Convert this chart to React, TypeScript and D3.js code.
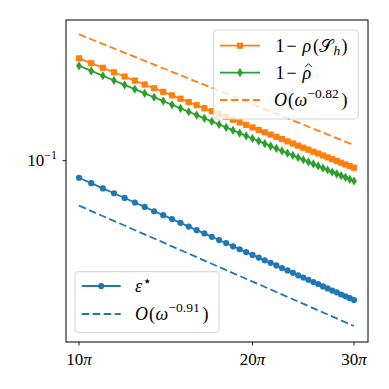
import * as d3 from "d3";

// omega = k*pi/2, k = 20..60  (10pi .. 30pi)
const omegaSteps = d3.range(20, 61).map((k) => (k * Math.PI) / 2);

const oneMinusRhoSh = [
  0.2315, 0.2225, 0.2142, 0.2065, 0.1995, 0.1929, 0.1868, 0.1812, 0.1759, 0.1709,
  0.1662, 0.1618, 0.1577, 0.1538, 0.1501, 0.1466, 0.1432, 0.14, 0.137, 0.1341,
  0.1314, 0.1288, 0.1263, 0.1239, 0.1216, 0.1194, 0.1172, 0.1152, 0.1132, 0.1113,
  0.1095, 0.1077, 0.1061, 0.1044, 0.1028, 0.1013, 0.0998, 0.0984, 0.097, 0.0957,
  0.0944,
];

const oneMinusRhoHat = [
  0.2178, 0.2088, 0.2007, 0.1931, 0.1862, 0.1798, 0.1738, 0.1683, 0.1631, 0.1582,
  0.1537, 0.1494, 0.1454, 0.1416, 0.138, 0.1346, 0.1314, 0.1283, 0.1254, 0.1226,
  0.12, 0.1175, 0.1151, 0.1128, 0.1106, 0.1084, 0.1064, 0.1045, 0.1026, 0.1008,
  0.099, 0.0974, 0.0958, 0.0942, 0.0927, 0.0912, 0.0898, 0.0885, 0.0872, 0.0859,
  0.0847,
];

const epsStar = [
  0.087, 0.0832, 0.0797, 0.0766, 0.0737, 0.071, 0.0685, 0.0661, 0.064, 0.062,
  0.0601, 0.0583, 0.0566, 0.0551, 0.0536, 0.0522, 0.0509, 0.0496, 0.0484, 0.0473,
  0.0462, 0.0452, 0.0442, 0.0433, 0.0424, 0.0415, 0.0407, 0.0399, 0.0391, 0.0384,
  0.0377, 0.037, 0.0364, 0.0357, 0.0351, 0.0345, 0.034, 0.0334, 0.0329, 0.0324,
  0.0319,
];

// reference slopes: endpoints at 10pi and 30pi
const refOmega = [10 * Math.PI, 30 * Math.PI];
const ref082 = [0.2818, 0.1137];
const ref091 = [0.0692, 0.0258];

const xTicks = [10 * Math.PI, 20 * Math.PI, 30 * Math.PI];
const xTickLabels = ["10", "20", "30"];
const yTicks = [0.1];

const BLUE = "#1f77b4";
const ORANGE = "#ff7f0e";
const GREEN = "#2ca02c";

const W = 389, H = 389;
const left = 66, right = 368, top = 20, bottom = 342;

const x = d3.scaleLog().domain([10 * Math.PI * 0.9494, 30 * Math.PI * 1.0575]).range([left, right]);
const y = d3.scaleLog().domain([0.02263, 0.317]).range([bottom, top]);

const line = d3.line<[number, number]>().x((d) => x(d[0])).y((d) => y(d[1]));
const zip = (xs: number[], ys: number[]) => xs.map((v, i) => [v, ys[i]] as [number, number]);

const FONT = "'Liberation Serif', 'DejaVu Serif', serif";
const DASH = "7.5,3.5";
const FS = 18;
const SUP = 13.5;

function Square({ cx, cy, s, fill }: { cx: number; cy: number; s: number; fill: string }) {
  return <rect x={cx - s / 2} y={cy - s / 2} width={s} height={s} fill={fill} />;
}
function Diamond({ cx, cy, fill }: { cx: number; cy: number; fill: string }) {
  const w = 2.9, h = 4.6;
  return <path d={`M${cx},${cy - h}L${cx + w},${cy}L${cx},${cy + h}L${cx - w},${cy}Z`} fill={fill} />;
}

type Piece = { t: string; x: number; dy?: number; size?: number; it?: boolean; family?: string };
function MathText({ pieces, baseline }: { pieces: Piece[]; baseline: number }) {
  return (
    <g>
      {pieces.map((p, i) => (
        <text
          key={i}
          x={p.x}
          y={baseline + (p.dy || 0)}
          fontSize={p.size || FS}
          fontStyle={p.it ? "italic" : "normal"}
          fontFamily={p.family || FONT}
          fill="#000"
        >
          {p.t}
        </text>
      ))}
    </g>
  );
}

export default function App() {
  const sq = zip(omegaSteps, oneMinusRhoSh);
  const dm = zip(omegaSteps, oneMinusRhoHat);
  const ep = zip(omegaSteps, epsStar);

  const L1 = { x: 213.7, y: 30, w: 144.6, h: 89 };
  const L2 = { x: 75, y: 271.7, w: 144, h: 60.6 };
  const l1rows = [45.7, 72.7, 100];
  const l2rows = [286, 314];
  const b = (r: number) => r + 6;

  return (
    <svg width={W} height={H} style={{ position: "absolute", left: 0, top: 0, background: "#fff" }} fontFamily={FONT}>
      <defs>
        <clipPath id="plot">
          <rect x={left} y={top} width={right - left} height={bottom - top} />
        </clipPath>
      </defs>
      <g clipPath="url(#plot)">
        <path d={line(zip(refOmega, ref082)) || ""} fill="none" stroke={ORANGE} strokeWidth={1.8} strokeDasharray={DASH} />
        <path d={line(zip(refOmega, ref091)) || ""} fill="none" stroke={BLUE} strokeWidth={1.8} strokeDasharray={DASH} />

        <path d={line(ep) || ""} fill="none" stroke={BLUE} strokeWidth={1.8} />
        {ep.map((d, i) => (
          <circle key={"e" + i} cx={x(d[0])} cy={y(d[1])} r={3.1} fill={BLUE} />
        ))}

        <path d={line(sq) || ""} fill="none" stroke={ORANGE} strokeWidth={1.8} />
        {sq.map((d, i) => (
          <Square key={"s" + i} cx={x(d[0])} cy={y(d[1])} s={6.2} fill={ORANGE} />
        ))}

        <path d={line(dm) || ""} fill="none" stroke={GREEN} strokeWidth={1.8} />
        {dm.map((d, i) => (
          <Diamond key={"d" + i} cx={x(d[0])} cy={y(d[1])} fill={GREEN} />
        ))}
      </g>

      <rect x={left} y={top} width={right - left} height={bottom - top} fill="none" stroke="#000" strokeWidth={1} />

      {xTicks.map((t, i) => (
        <g key={"xt" + i} transform={`translate(${x(t)},${bottom})`}>
          <line y2={3.5} stroke="#000" strokeWidth={0.9} />
          <text y={23} textAnchor="middle" fontSize={17} fill="#000">
            {xTickLabels[i]}
            <tspan fontStyle="italic">π</tspan>
          </text>
        </g>
      ))}

      {yTicks.map((t, i) => (
        <g key={"yt" + i} transform={`translate(${left},${y(t)})`}>
          <line x2={-3.5} stroke="#000" strokeWidth={0.9} />
          <text x={-9} y={5.5} textAnchor="end" fontSize={17} fill="#000">
            10
            <tspan dy={-7} fontSize={12}>−1</tspan>
          </text>
        </g>
      ))}

      {/* legend 1 */}
      <rect x={L1.x} y={L1.y} width={L1.w} height={L1.h} rx={3} fill="#fff" fillOpacity={0.8} stroke="#d0d0d0" strokeWidth={0.9} />
      <line x1={220} x2={260} y1={l1rows[0]} y2={l1rows[0]} stroke={ORANGE} strokeWidth={1.8} />
      <Square cx={240} cy={l1rows[0]} s={6.2} fill={ORANGE} />
      <MathText
        baseline={b(l1rows[0])}
        pieces={[
          { t: "1", x: 275.5 },
          { t: "−", x: 286.5 },
          { t: "ρ", x: 302.5, it: true },
          { t: "(", x: 313 },
          { t: "𝒮", x: 319 },
          { t: "h", x: 333.5, dy: 3.5, size: SUP, it: true },
          { t: ")", x: 341.5 },
        ]}
      />

      <line x1={220} x2={260} y1={l1rows[1]} y2={l1rows[1]} stroke={GREEN} strokeWidth={1.8} />
      <Diamond cx={240} cy={l1rows[1]} fill={GREEN} />
      <MathText
        baseline={b(l1rows[1])}
        pieces={[
          { t: "1", x: 275.5 },
          { t: "−", x: 286.5 },
          { t: "ρ", x: 302.5, it: true },
        ]}
      />
      {/* hat accent over rho */}
      <path d={`M305,${b(l1rows[1]) - 11.5}L308.5,${b(l1rows[1]) - 15}L312,${b(l1rows[1]) - 11.5}`} fill="none" stroke="#000" strokeWidth={0.9} />

      <line x1={220} x2={260} y1={l1rows[2]} y2={l1rows[2]} stroke={ORANGE} strokeWidth={1.8} strokeDasharray={DASH} />
      <MathText
        baseline={b(l1rows[2])}
        pieces={[
          { t: "O", x: 274, it: true },
          { t: "(", x: 288 },
          { t: "ω", x: 294.5, it: true },
          { t: "−0.82", x: 307.5, dy: -8, size: SUP },
          { t: ")", x: 341.5 },
        ]}
      />

      {/* legend 2 */}
      <rect x={L2.x} y={L2.y} width={L2.w} height={L2.h} rx={3} fill="#fff" fillOpacity={0.8} stroke="#d0d0d0" strokeWidth={0.9} />
      <line x1={81.7} x2={120.7} y1={l2rows[0]} y2={l2rows[0]} stroke={BLUE} strokeWidth={1.8} />
      <circle cx={101.2} cy={l2rows[0]} r={3.1} fill={BLUE} />
      <MathText
        baseline={b(l2rows[0])}
        pieces={[
          { t: "ε", x: 135, it: true },
          { t: "⋆", x: 142.5, dy: -6.5, size: 15, family: "'DejaVu Sans', sans-serif" },
        ]}
      />

      <line x1={81.7} x2={120.7} y1={l2rows[1]} y2={l2rows[1]} stroke={BLUE} strokeWidth={1.8} strokeDasharray={DASH} />
      <MathText
        baseline={b(l2rows[1])}
        pieces={[
          { t: "O", x: 135, it: true },
          { t: "(", x: 149 },
          { t: "ω", x: 155.5, it: true },
          { t: "−0.91", x: 168.5, dy: -8, size: SUP },
          { t: ")", x: 202.5 },
        ]}
      />
    </svg>
  );
}
